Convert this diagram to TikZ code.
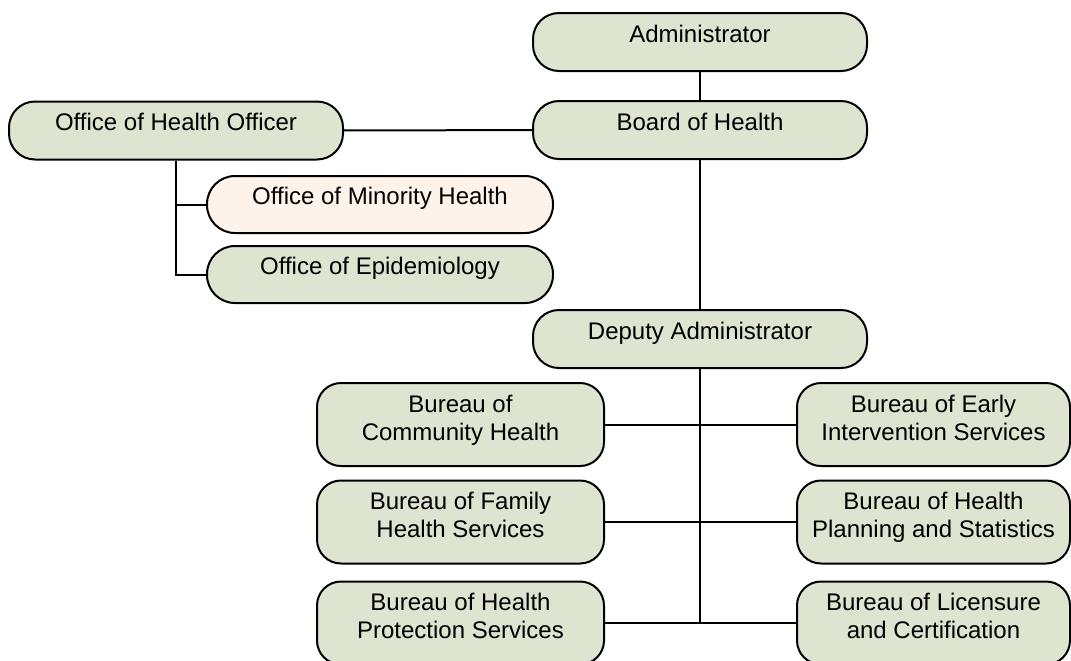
\documentclass[tikz,border=0pt]{standalone}
\usepackage{fontspec}
\setmainfont{Liberation Sans}
\usepackage{tikz}
\usetikzlibrary{calc,positioning}
\definecolor{boxgreen}{RGB}{221,229,209}
\definecolor{boxcream}{RGB}{253,243,235}

\begin{document}
\begin{tikzpicture}[x=0.5pt,y=-0.5pt,
    unit/.style={draw=black,line width=1pt,fill=boxgreen,rounded corners=13pt,minimum width=167pt,minimum height=29pt,inner sep=0pt,font=\fontsize{12}{14}\selectfont,text height=6pt,text depth=6pt},
    office/.style={unit,minimum width=173pt,minimum height=28.5pt,rounded corners=14pt},
    bureau/.style={unit,rounded corners=12pt,minimum width=143.5pt,minimum height=41.5pt,align=center,text height=22pt,text depth=6.5pt},
    link/.style={line width=1pt}]
            \useasboundingbox (0,0) rectangle (1071,660);
            \clip (0,0) rectangle (1071,660);
            \fill[white] (0,0) rectangle (1071,660);

            \node[unit] (admin) at (700,42) {Administrator};
            \node[unit] (board) at (700,130) {Board of Health};
            \node[unit] (oho) at (176,130.5) {Office of Health Officer};
            \node[office,fill=boxcream] (minority) at (380,204.5) {Office of Minority Health};
            \node[office] (epid) at (380,274.5) {Office of Epidemiology};
            \node[unit] (deputy) at (700,339) {Deputy Administrator};

            \node[bureau] (comm) at (460.5,424.5) {Bureau of\\Community Health};
            \node[bureau] (family) at (460.5,522) {Bureau of Family\\Health Services};
            \node[bureau] (protect) at (460.5,623) {Bureau of Health\\Protection Services};
            \node[bureau,minimum width=136.5pt] (early) at (933.5,424.5) {Bureau of Early\\Intervention Services};
            \node[bureau,minimum width=136.5pt] (planning) at (933.5,522) {Bureau of Health\\Planning and Statistics};
            \node[bureau,minimum width=136.5pt] (licence) at (933.5,623) {Bureau of Licensure\\and Certification};

            \coordinate (trunk) at (deputy.south |- protect.east);
            \draw[link] (admin) -- (board);
            \draw[link] (oho) -- (board);
            \draw[link] (board) -- (deputy);
            \draw[link] (oho.south) |- (epid.west);
            \draw[link] (oho.south |- minority.west) -- (minority.west);
            \draw[link] (deputy.south) -- (trunk);
            \draw[link] (comm) -- (early);
            \draw[link] (family) -- (planning);
            \draw[link] (protect) -- (licence);
          \end{tikzpicture}
\end{document}
